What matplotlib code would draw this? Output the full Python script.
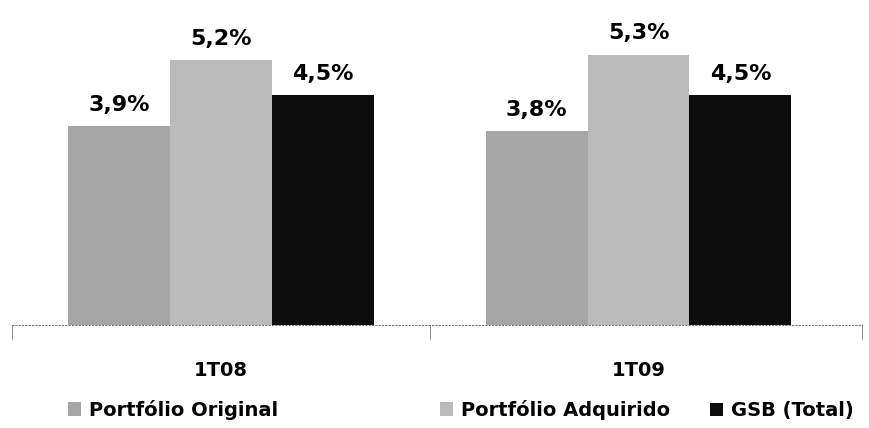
import matplotlib.pyplot as plt
from matplotlib.patches import Patch
import numpy as np

# Inadimplência por carteira, 1T08 x 1T09
periodos = ['1T08', '1T09']
series = ['Portfólio Original', 'Portfólio Adquirido', 'GSB (Total)']
valores = [
    [3.9, 3.8],   # Portfólio Original
    [5.2, 5.3],   # Portfólio Adquirido
    [4.5, 4.5],   # GSB (Total)
]
cores = ['#a6a6a6', '#bababa', '#0c0c0c']

plt.rcParams['font.family'] = 'DejaVu Sans'
plt.rcParams['font.weight'] = 'bold'

fig = plt.figure(figsize=(8.7, 4.28), dpi=100)
ax = fig.add_axes([12 / 870, 103 / 428, 850 / 870, 325 / 428])

x = np.arange(len(periodos))
largura = 0.244
for i, (nome, vals) in enumerate(zip(series, valores)):
    pos = x + (i - 1) * largura
    ax.bar(pos, vals, width=largura, color=cores[i], label=nome)
    for xp, v in zip(pos, vals):
        rot = ('%.1f%%' % v).replace('.', ',')
        ax.annotate(rot, (xp, v), xytext=(0, 8), textcoords='offset points',
                    ha='center', va='bottom', fontsize=16, fontweight='bold')

ax.set_xlim(-0.5, 1.535)
ax.set_ylim(0, 6.37)

for lado in ['top', 'right', 'left']:
    ax.spines[lado].set_visible(False)
ax.spines['bottom'].set_linestyle((0, (1, 2)))
ax.spines['bottom'].set_color('#777777')
ax.spines['bottom'].set_linewidth(0.8)

ax.set_yticks([])
ax.set_xticks(x)
ax.set_xticklabels(periodos, fontsize=14, fontweight='bold')
ax.tick_params(axis='x', which='major', length=0, pad=26)
ax.set_xticks([-0.5, 0.5, 1.535], minor=True)
ax.tick_params(axis='x', which='minor', length=10, width=0.6,
               color='#777777', direction='out')

# legenda: uma entrada por bloco, espaçadas ao longo da largura
x_legenda = [54, 426, 696]
y_legenda = [0.043, 0.043, 0.0405]
for c, s, xl, yl in zip(cores, series, x_legenda, y_legenda):
    fig.legend(handles=[Patch(facecolor=c, label=s)], loc='center left',
               bbox_to_anchor=(xl / 870, yl), frameon=False, fontsize=14,
               handlelength=0.7, handleheight=0.7, handletextpad=0.4,
               borderpad=0.2)

fig.savefig('out.png', dpi=100)
plt.close(fig)
